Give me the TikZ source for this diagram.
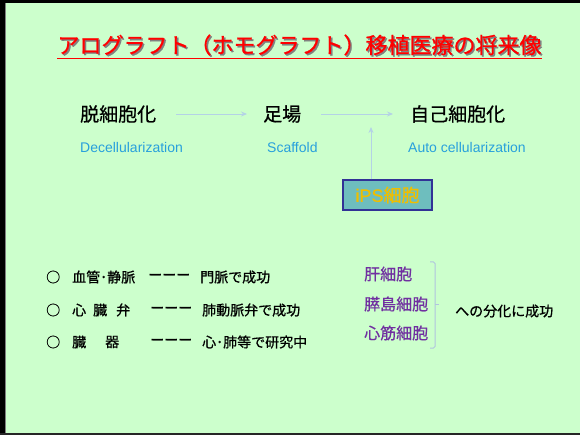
\documentclass[tikz,border=0pt]{standalone}
\usepackage{fontspec}
\setmainfont{Noto Sans CJK JP}
\newfontfamily\jpm{Noto Sans CJK JP}[FakeBold=0.7]
\newfontfamily\jpt{Noto Sans CJK JP}[FakeBold=1.0]
\newfontfamily\lat{Liberation Sans}
\newfontfamily\latm{Liberation Sans}[FakeBold=0.6]
\usetikzlibrary{arrows.meta}
\definecolor{bg}{RGB}{204,255,204}
\definecolor{engblue}{RGB}{40,160,220}
\definecolor{arrowc}{RGB}{180,210,230}
\definecolor{ipsfill}{RGB}{110,190,190}
\definecolor{ipsborder}{RGB}{50,50,150}
\definecolor{ipstext}{RGB}{240,190,0}
\definecolor{purp}{RGB}{112,48,160}
\definecolor{bracec}{RGB}{176,196,222}
\begin{document}
\begin{tikzpicture}[x=1pt,y=-1pt,
 titlestyle/.style={font=\jpt\fontsize{22}{22}\selectfont, inner sep=0pt},
 head/.style={font=\jpm\fontsize{19}{19}\selectfont, inner sep=0pt, anchor=west},
 eng/.style={font=\lat\fontsize{14}{14}\selectfont, text=engblue, inner sep=0pt, anchor=west},
 flow/.style={draw=arrowc, line width=0.8pt, -{Stealth[length=6pt,width=5pt]}},
 item/.style={font=\jpm\fontsize{14}{14}\selectfont, inner sep=0pt, anchor=west},
 cell/.style={font=\jpm\fontsize{16}{16}\selectfont, text=purp, inner sep=0pt, anchor=west}]
\fill[bg] (0,0) rectangle (580,435);
\fill[black] (0,0) rectangle (5,435);
\fill[black] (0,0) rectangle (580,3);
\draw[gray, line width=1pt] (5.5,3) -- (5.5,433);
\fill[black!85] (0,433) rectangle (580,435);
\useasboundingbox (0,0) rectangle (580,435);

% title
\node[titlestyle, text=black!50] at (301,46.5) {アログラフト（ホモグラフト）移植医療の将来像};
\node[titlestyle, text=red] (title) at (299.5,45) {アログラフト（ホモグラフト）移植医療の将来像};
\draw[red, line width=1.2pt] ([yshift=-3pt]title.south west) -- ([yshift=-3pt]title.south east);

% flow
\node[head] (decel) at (80,114) {脱細胞化};
\node[head] (scaf) at (263,114) {足場};
\node[head] (auto) at (410,114) {自己細胞化};
\node[eng] (edecel) at (80,147) {Decellularization};
\node[eng] (escaf) at (267,147) {Scaffold};
\node[eng] (eauto) at (408,147) {Auto cellularization};
\draw[flow] ([xshift=20pt]decel.east) -- ([xshift=-16pt]scaf.west);
\draw[flow] ([xshift=20pt]scaf.east) -- ([xshift=-17pt]auto.west);

\node[draw=ipsborder, line width=1.2pt, fill=ipsfill, text=ipstext, minimum width=89pt, minimum height=30pt, inner sep=0pt, font=\fontsize{18}{18}\selectfont] (ips) at (387.5,195) {\latm iPS\jpm 細胞};
\coordinate (up) at (371,127);
\draw[flow] (ips.north -| up) -- (up);

% list
\node[item] (b1) at (46,277) {○};
\node[item] (b2) at (46,310) {○};
\node[item] (b3) at (46,342) {○};
\node[item] (r1a) at (72,277) {血管･静脈};
\node[item] (r1b) at (148,277) {ーーー};
\node[item] (r1c) at (200,277) {門脈で成功};
\node[item] (r2a) at (72,310) {心};
\node[item] (r2b) at (93,310) {臓};
\node[item] (r2c) at (116,310) {弁};
\node[item] (r2d) at (150,310) {ーーー};
\node[item] (r2e) at (202,310) {肺動脈弁で成功};
\node[item] (r3a) at (72,342) {臓};
\node[item] (r3b) at (105,342) {器};
\node[item] (r3c) at (150,342) {ーーー};
\node[item] (r3d) at (202,342) {心･肺等で研究中};

% cells
\node[cell] (c1) at (364,274) {肝細胞};
\node[cell] (c2) at (364,304) {膵島細胞};
\node[cell] (c3) at (364,333) {心筋細胞};
\draw[bracec, line width=1pt, rounded corners=1.5pt] (430,262) -- (435,262) -- (435,348) -- (430,348);
\draw[bracec, line width=1pt] (435,304) -- (439,304);
\node[item] (diff) at (455,311) {への分化に成功};
\end{tikzpicture}
\end{document}
